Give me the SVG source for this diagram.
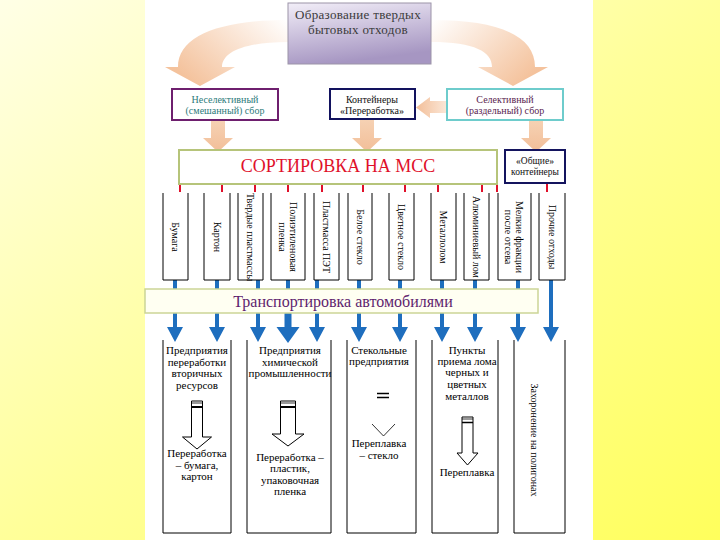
<svg xmlns="http://www.w3.org/2000/svg" width="720" height="540" viewBox="0 0 720 540">
<defs>
<linearGradient id="bg" x1="0" y1="0" x2="1" y2="1">
<stop offset="0" stop-color="#FFFFE6"/>
<stop offset="0.5" stop-color="#FFFF9A"/>
<stop offset="1" stop-color="#FFFF5C"/>
</linearGradient>
<linearGradient id="topbox" x1="0" y1="0" x2="0.3" y2="1">
<stop offset="0" stop-color="#F2EEF8"/>
<stop offset="1" stop-color="#A696C2"/>
</linearGradient>
<linearGradient id="curveL" x1="1" y1="0" x2="0" y2="0.6">
<stop offset="0" stop-color="#FFFFFF"/>
<stop offset="1" stop-color="#F4C29C"/>
</linearGradient>
<linearGradient id="curveR" x1="0" y1="0" x2="1" y2="0.6">
<stop offset="0" stop-color="#FFFFFF"/>
<stop offset="1" stop-color="#F4C29C"/>
</linearGradient>
<linearGradient id="peachV" x1="0" y1="0" x2="0" y2="1">
<stop offset="0" stop-color="#F6D2B4"/>
<stop offset="1" stop-color="#F2BE98"/>
</linearGradient>
<linearGradient id="peachH" x1="1" y1="0" x2="0" y2="0">
<stop offset="0" stop-color="#FBE6D6"/>
<stop offset="1" stop-color="#F2BE98"/>
</linearGradient>
</defs>
<style>
.serif{font-family:"Liberation Serif","Times New Roman",serif}
.t10{font-size:10px}
.t11{font-size:11px}
.col{fill:none;stroke:#000;stroke-width:1}
.tick{stroke:#E0102A;stroke-width:2}
.blue{fill:#1E6EBE}
.bstub{stroke:#1E6EBE;stroke-width:4}
.hollow{fill:#fff;stroke:#000;stroke-width:1}
</style>
<rect x="0" y="0" width="720" height="540" fill="url(#bg)"/>
<rect x="145" y="0" width="448" height="540" fill="#FFFFFF"/>

<g id="connectors">
<path d="M288 20 C220 20 178 36 178 67 L165 67 L200 86 L235 67 L222 67 C222 52 245 42 288 42 Z" fill="url(#curveL)"/>
<path d="M431 20 C500 20 535 36 535 67 L548 67 L513 86 L478 67 L492 67 C492 52 475 42 431 42 Z" fill="url(#curveR)"/>
<path d="M446 101 L430 101 L430 97 L416 107.5 L430 118 L430 113 L446 113 Z" fill="url(#peachH)"/>
<path d="M211 120 L225 120 L225 138 L233 138 L218 152 L203 138 L211 138 Z" fill="url(#peachV)"/>
<path d="M360 119 L374 119 L374 138 L382 138 L367 152 L352 138 L360 138 Z" fill="url(#peachV)"/>
<path d="M529 120 L543 120 L543 138 L551 138 L536 152 L521 138 L529 138 Z" fill="url(#peachV)"/>
<g>
<line class="tick" x1="180" y1="184" x2="180" y2="192"/>
<line class="tick" x1="222" y1="184" x2="222" y2="192"/>
<line class="tick" x1="255" y1="184" x2="255" y2="192"/>
<line class="tick" x1="288" y1="184" x2="288" y2="192"/>
<line class="tick" x1="322" y1="184" x2="322" y2="192"/>
<line class="tick" x1="363" y1="184" x2="363" y2="192"/>
<line class="tick" x1="405" y1="184" x2="405" y2="192"/>
<line class="tick" x1="438" y1="184" x2="438" y2="192"/>
<line class="tick" x1="482" y1="184" x2="482" y2="192"/>
<line class="tick" x1="497" y1="184" x2="497" y2="192"/>
<line class="tick" x1="547" y1="184" x2="547" y2="192"/>
</g>
<g>
<line class="bstub" x1="175" y1="280" x2="175" y2="289"/>
<line class="bstub" x1="217" y1="280" x2="217" y2="289"/>
<line class="bstub" x1="258" y1="280" x2="258" y2="289"/>
<line class="bstub" x1="288" y1="280" x2="288" y2="289"/>
<line class="bstub" x1="317" y1="280" x2="317" y2="289"/>
<line class="bstub" x1="359" y1="280" x2="359" y2="289"/>
<line class="bstub" x1="400" y1="280" x2="400" y2="289"/>
<line class="bstub" x1="442" y1="280" x2="442" y2="289"/>
<line class="bstub" x1="475" y1="280" x2="475" y2="289"/>
<line class="bstub" x1="518" y1="280" x2="518" y2="289"/>
</g>
<g class="blue">
<path d="M173 313 h4 v14 h6 l-8 15 l-8 -15 h6 Z"/>
<path d="M215 313 h4 v14 h6 l-8 15 l-8 -15 h6 Z"/>
<path d="M256 313 h4 v14 h6 l-8 15 l-8 -15 h6 Z"/>
<path d="M284.5 313 h7 v14 h8 l-11.5 16 l-11.5 -16 h8 Z"/>
<path d="M315 313 h4 v14 h6 l-8 15 l-8 -15 h6 Z"/>
<path d="M357 313 h4 v14 h6 l-8 15 l-8 -15 h6 Z"/>
<path d="M398 313 h4 v14 h6 l-8 15 l-8 -15 h6 Z"/>
<path d="M440 313 h4 v14 h6 l-8 15 l-8 -15 h6 Z"/>
<path d="M473 313 h4 v14 h6 l-8 15 l-8 -15 h6 Z"/>
<path d="M516 313 h4 v14 h6 l-8 15 l-8 -15 h6 Z"/>
<path d="M549 280 h4 v47 h6 l-8 15 l-8 -15 h6 Z"/>
</g>
</g>

<g id="node-source">
<rect x="288" y="3" width="143" height="61" fill="url(#topbox)" stroke="#9C94A8" stroke-width="1"/>
<text class="serif" font-size="13" letter-spacing="0.3" fill="#3A3A3A" text-anchor="middle" x="358" y="19">Образование твердых</text>
<text class="serif" font-size="13" letter-spacing="0.3" fill="#3A3A3A" text-anchor="middle" x="358" y="34">бытовых отходов</text>
</g>

<g id="node-mixed">
<rect x="172" y="89" width="106" height="31" fill="#fff" stroke="#6E1F6E" stroke-width="2"/>
<text class="serif t10" fill="#2C7A7A" text-anchor="middle" x="225" y="103">Неселективный</text>
<text class="serif t10" fill="#2C7A7A" text-anchor="middle" x="225" y="114">(смешанный) сбор</text>
</g>

<g id="node-containers">
<rect x="330" y="89" width="85" height="30" fill="#fff" stroke="#12125E" stroke-width="2"/>
<text class="serif t10" fill="#111" text-anchor="middle" x="372" y="103">Контейнеры</text>
<text class="serif t10" fill="#111" text-anchor="middle" x="372" y="114">«Переработка»</text>
</g>

<g id="node-selective">
<rect x="447" y="89" width="116" height="31" fill="#fff" stroke="#6ECCCC" stroke-width="2"/>
<text class="serif t10" fill="#5A2450" text-anchor="middle" x="505" y="103">Селективный</text>
<text class="serif t10" fill="#5A2450" text-anchor="middle" x="505" y="114">(раздельный) сбор</text>
</g>

<g id="node-sorting">
<rect x="179" y="150" width="318" height="34" fill="#fff" stroke="#B6C47A" stroke-width="2"/>
<text class="serif" font-size="18" fill="#E0102A" text-anchor="middle" x="338" y="172">СОРТИРОВКА НА МСС</text>
</g>

<g id="node-common">
<rect x="505" y="150" width="60" height="33" fill="#fff" stroke="#14145E" stroke-width="2"/>
<text class="serif" font-size="9.5" fill="#111" text-anchor="middle" x="535" y="164">«Общие»</text>
<text class="serif" font-size="9.5" fill="#111" text-anchor="middle" x="535" y="175">контейнеры</text>
</g>

<g id="node-paper">
<path class="col" d="M163 193 V280 H188 V193"/>
<text class="serif t10" text-anchor="middle" transform="translate(175.5 237) rotate(90)" y="3.5">Бумага</text>
</g>
<g id="node-cardboard">
<path class="col" d="M204 193 V280 H230 V193"/>
<text class="serif t10" text-anchor="middle" transform="translate(217 237) rotate(90)" y="3.5">Картон</text>
</g>
<g id="node-hardplastic">
<path class="col" d="M238 193 V280 H263 V193"/>
<text class="serif t10" text-anchor="middle" transform="translate(250.5 237) rotate(90)" y="3.5">Твердые пластмассы</text>
</g>
<g id="node-film">
<path class="col" d="M271 193 V280 H305 V193"/>
<text class="serif t10" text-anchor="middle" transform="translate(288 237) rotate(90)" y="-1.5">Полиэтиленовая</text>
<text class="serif t10" text-anchor="middle" transform="translate(288 237) rotate(90)" y="9.5">пленка</text>
</g>
<g id="node-pet">
<path class="col" d="M314 193 V280 H339 V193"/>
<text class="serif t10" text-anchor="middle" transform="translate(326.5 237) rotate(90)" y="3.5">Пластмасса ПЭТ</text>
</g>
<g id="node-whiteglass">
<path class="col" d="M348 193 V280 H372 V193"/>
<text class="serif t10" text-anchor="middle" transform="translate(360 237) rotate(90)" y="3.5">Белое стекло</text>
</g>
<g id="node-colorglass">
<path class="col" d="M389 193 V280 H414 V193"/>
<text class="serif t10" text-anchor="middle" transform="translate(401.5 237) rotate(90)" y="3.5">Цветное стекло</text>
</g>
<g id="node-metal">
<path class="col" d="M431 193 V280 H456 V193"/>
<text class="serif t10" text-anchor="middle" transform="translate(443.5 237) rotate(90)" y="3.5">Металлолом</text>
</g>
<g id="node-aluminium">
<path class="col" d="M464 193 V280 H489 V193"/>
<text class="serif t10" text-anchor="middle" transform="translate(476.5 237) rotate(90)" y="3.5">Алюминиевый лом</text>
</g>
<g id="node-fines">
<path class="col" d="M498 193 V280 H531 V193"/>
<text class="serif t10" text-anchor="middle" transform="translate(514.5 237) rotate(90)" y="-1.5">Мелкие фракции</text>
<text class="serif t10" text-anchor="middle" transform="translate(514.5 237) rotate(90)" y="9.5">после отсева</text>
</g>
<g id="node-other">
<path class="col" d="M539 193 V280 H565 V193"/>
<text class="serif t10" text-anchor="middle" transform="translate(552 237) rotate(90)" y="3.5">Прочие отходы</text>
</g>

<g id="node-transport">
<rect x="145" y="289" width="393" height="24" fill="#FFFFF2" stroke="#CCD596" stroke-width="1.5"/>
<text class="serif" font-size="16" fill="#5E1E6E" text-anchor="middle" x="343" y="307">Транспортировка автомобилями</text>
</g>

<g id="node-recycling">
<path class="col" d="M163 340 V533 H231 V340"/>
<text class="serif t11" text-anchor="middle" x="197" y="354">Предприятия</text>
<text class="serif t11" text-anchor="middle" x="197" y="366">переработки</text>
<text class="serif t11" text-anchor="middle" x="197" y="377">вторичных</text>
<text class="serif t11" text-anchor="middle" x="197" y="389">ресурсов</text>
<path class="hollow" d="M191.5 401 H202.5 V437 H211.5 L197 449 L182.5 437 H191.5 Z"/>
<line x1="191.5" y1="403" x2="202.5" y2="403" stroke="#000" stroke-width="0.8"/>
<line x1="191.5" y1="407" x2="202.5" y2="407" stroke="#000" stroke-width="2"/>
<text class="serif t11" text-anchor="middle" x="197" y="457">Переработка</text>
<text class="serif t11" text-anchor="middle" x="197" y="469">– бумага,</text>
<text class="serif t11" text-anchor="middle" x="197" y="480">картон</text>
</g>

<g id="node-chemical">
<path class="col" d="M247 340 V533 H331 V340"/>
<text class="serif t11" text-anchor="middle" x="290" y="354">Предприятия</text>
<text class="serif t11" text-anchor="middle" x="290" y="366">химической</text>
<text class="serif t11" text-anchor="middle" x="290" y="377">промышленности</text>
<path class="hollow" d="M280.5 401 H295.5 V434 H304 L288 446 L272 434 H280.5 Z"/>
<line x1="280.5" y1="403" x2="295.5" y2="403" stroke="#000" stroke-width="0.8"/>
<line x1="280.5" y1="407" x2="295.5" y2="407" stroke="#000" stroke-width="2"/>
<text class="serif t11" text-anchor="middle" x="290" y="461">Переработка –</text>
<text class="serif t11" text-anchor="middle" x="290" y="472">пластик,</text>
<text class="serif t11" text-anchor="middle" x="290" y="484">упаковочная</text>
<text class="serif t11" text-anchor="middle" x="290" y="495">пленка</text>
</g>

<g id="node-glassworks">
<path class="col" d="M347 340 V533 H416 V340"/>
<text class="serif t11" text-anchor="middle" x="379" y="354">Стекольные</text>
<text class="serif t11" text-anchor="middle" x="379" y="365">предприятия</text>
<line x1="377" y1="393.5" x2="389" y2="393.5" stroke="#000" stroke-width="1.5"/>
<line x1="377" y1="397.5" x2="389" y2="397.5" stroke="#000" stroke-width="1.5"/>
<path d="M372 424 L383.5 436 L395 424" fill="none" stroke="#000" stroke-width="0.8"/>
<text class="serif t11" text-anchor="middle" x="379" y="447">Переплавка</text>
<text class="serif t11" text-anchor="middle" x="379" y="459">– стекло</text>
</g>

<g id="node-metalpoints">
<path class="col" d="M432 340 V533 H498 V340"/>
<text class="serif t11" text-anchor="middle" x="467" y="354">Пункты</text>
<text class="serif t11" text-anchor="middle" x="467" y="365">приема лома</text>
<text class="serif t11" text-anchor="middle" x="467" y="376">черных и</text>
<text class="serif t11" text-anchor="middle" x="467" y="388">цветных</text>
<text class="serif t11" text-anchor="middle" x="467" y="400">металлов</text>
<path class="hollow" d="M462 417 H473 V453 H478 L467.5 465 L457 453 H462 Z"/>
<line x1="462" y1="419" x2="473" y2="419" stroke="#000" stroke-width="0.8"/>
<line x1="462" y1="422.5" x2="473" y2="422.5" stroke="#000" stroke-width="1.5"/>
<text class="serif t11" text-anchor="middle" x="467" y="476">Переплавка</text>
</g>

<g id="node-landfill">
<path class="col" d="M514 340 V533 H565 V340"/>
<text class="serif t10" text-anchor="middle" transform="translate(534 440) rotate(90)" y="3.5">Захоронение на полигонах</text>
</g>
</svg>
